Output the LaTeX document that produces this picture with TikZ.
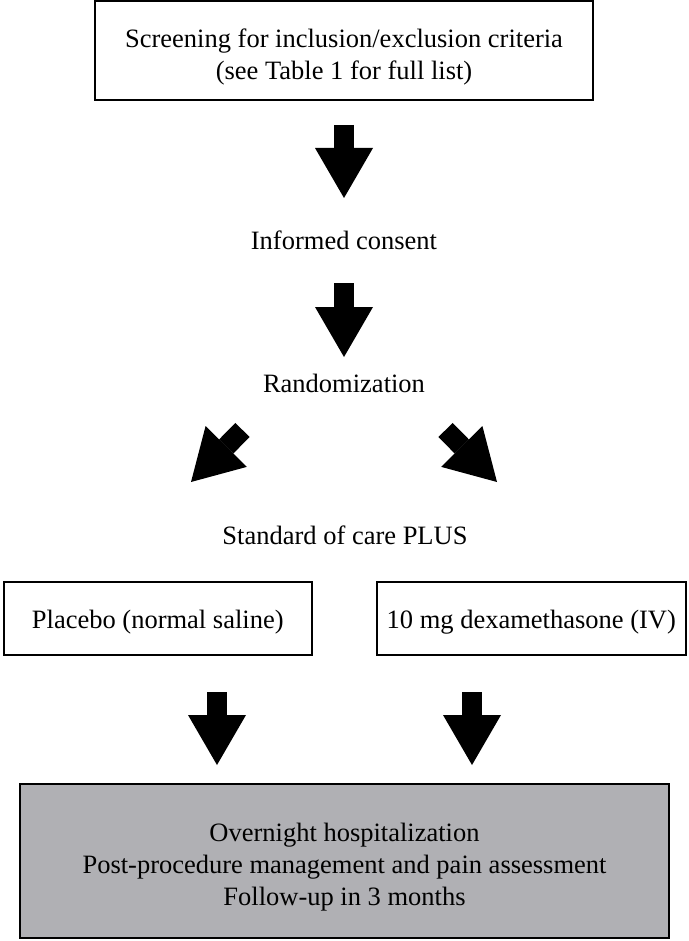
\documentclass[tikz,border=0pt]{standalone}
\usepackage{fontspec}
\setmainfont{Liberation Serif}
\usetikzlibrary{arrows.meta}
\definecolor{boxgray}{RGB}{176,176,180}
\tikzset{
  stepbox/.style={draw, line width=1.8pt, align=center, inner sep=0pt},
  bigarrow/.style={line width=20pt, -{Triangle[length=50pt,width=58pt,line width=0pt]}}
}
\begin{document}
\begin{tikzpicture}[x=1pt, y=-1pt, font=\fontsize{26.5pt}{32pt}\selectfont]
    \useasboundingbox (0,0) rectangle (688,941);

    % Define las cajas y los textos
    \node[stepbox, minimum width=498pt, minimum height=99pt] (screen) at (344,50.5)
        {\rule{0pt}{31pt}Screening for inclusion/exclusion criteria\\(see Table 1 for full list)};
    \node (consent) at (344,240) {Informed consent};
    \node (random) at (344,383) {Randomization};
    \node (care) at (345,535) {Standard of care PLUS};
    \node[stepbox, minimum width=308pt, minimum height=73pt] (placebo) at (157.75,618.5)
        {\rule{0pt}{25pt}Placebo (normal saline)};
    \node[stepbox, minimum width=309pt, minimum height=73pt] (dexa) at (531.25,618.5)
        {\rule{0pt}{25pt}10 mg dexamethasone (IV)};
    \node[stepbox, fill=boxgray, minimum width=649pt, minimum height=154pt] (followup) at (344.5,861)
        {\rule{0pt}{31pt}Overnight hospitalization\\Post-procedure management and pain assessment\\Follow-up in 3 months};

    % Define los extremos de las flechas
    \coordinate (s1) at (344,125);   \coordinate (t1) at (344,198);
    \coordinate (s2) at (344,283);   \coordinate (t2) at (344,357);
    \coordinate (s3) at (242.5,430); \coordinate (t3) at (191,482);
    \coordinate (s4) at (445.5,430); \coordinate (t4) at (497,482);
    \coordinate (s5) at (217,692);   \coordinate (t5) at (217,765);
    \coordinate (s6) at (472,692);   \coordinate (t6) at (472,765);

    % Dibuja las flechas
    \draw[bigarrow] (s1) -- (t1);
    \draw[bigarrow] (s2) -- (t2);
    \draw[bigarrow] (s3) -- (t3);
    \draw[bigarrow] (s4) -- (t4);
    \draw[bigarrow] (s5) -- (t5);
    \draw[bigarrow] (s6) -- (t6);
\end{tikzpicture}
\end{document}
